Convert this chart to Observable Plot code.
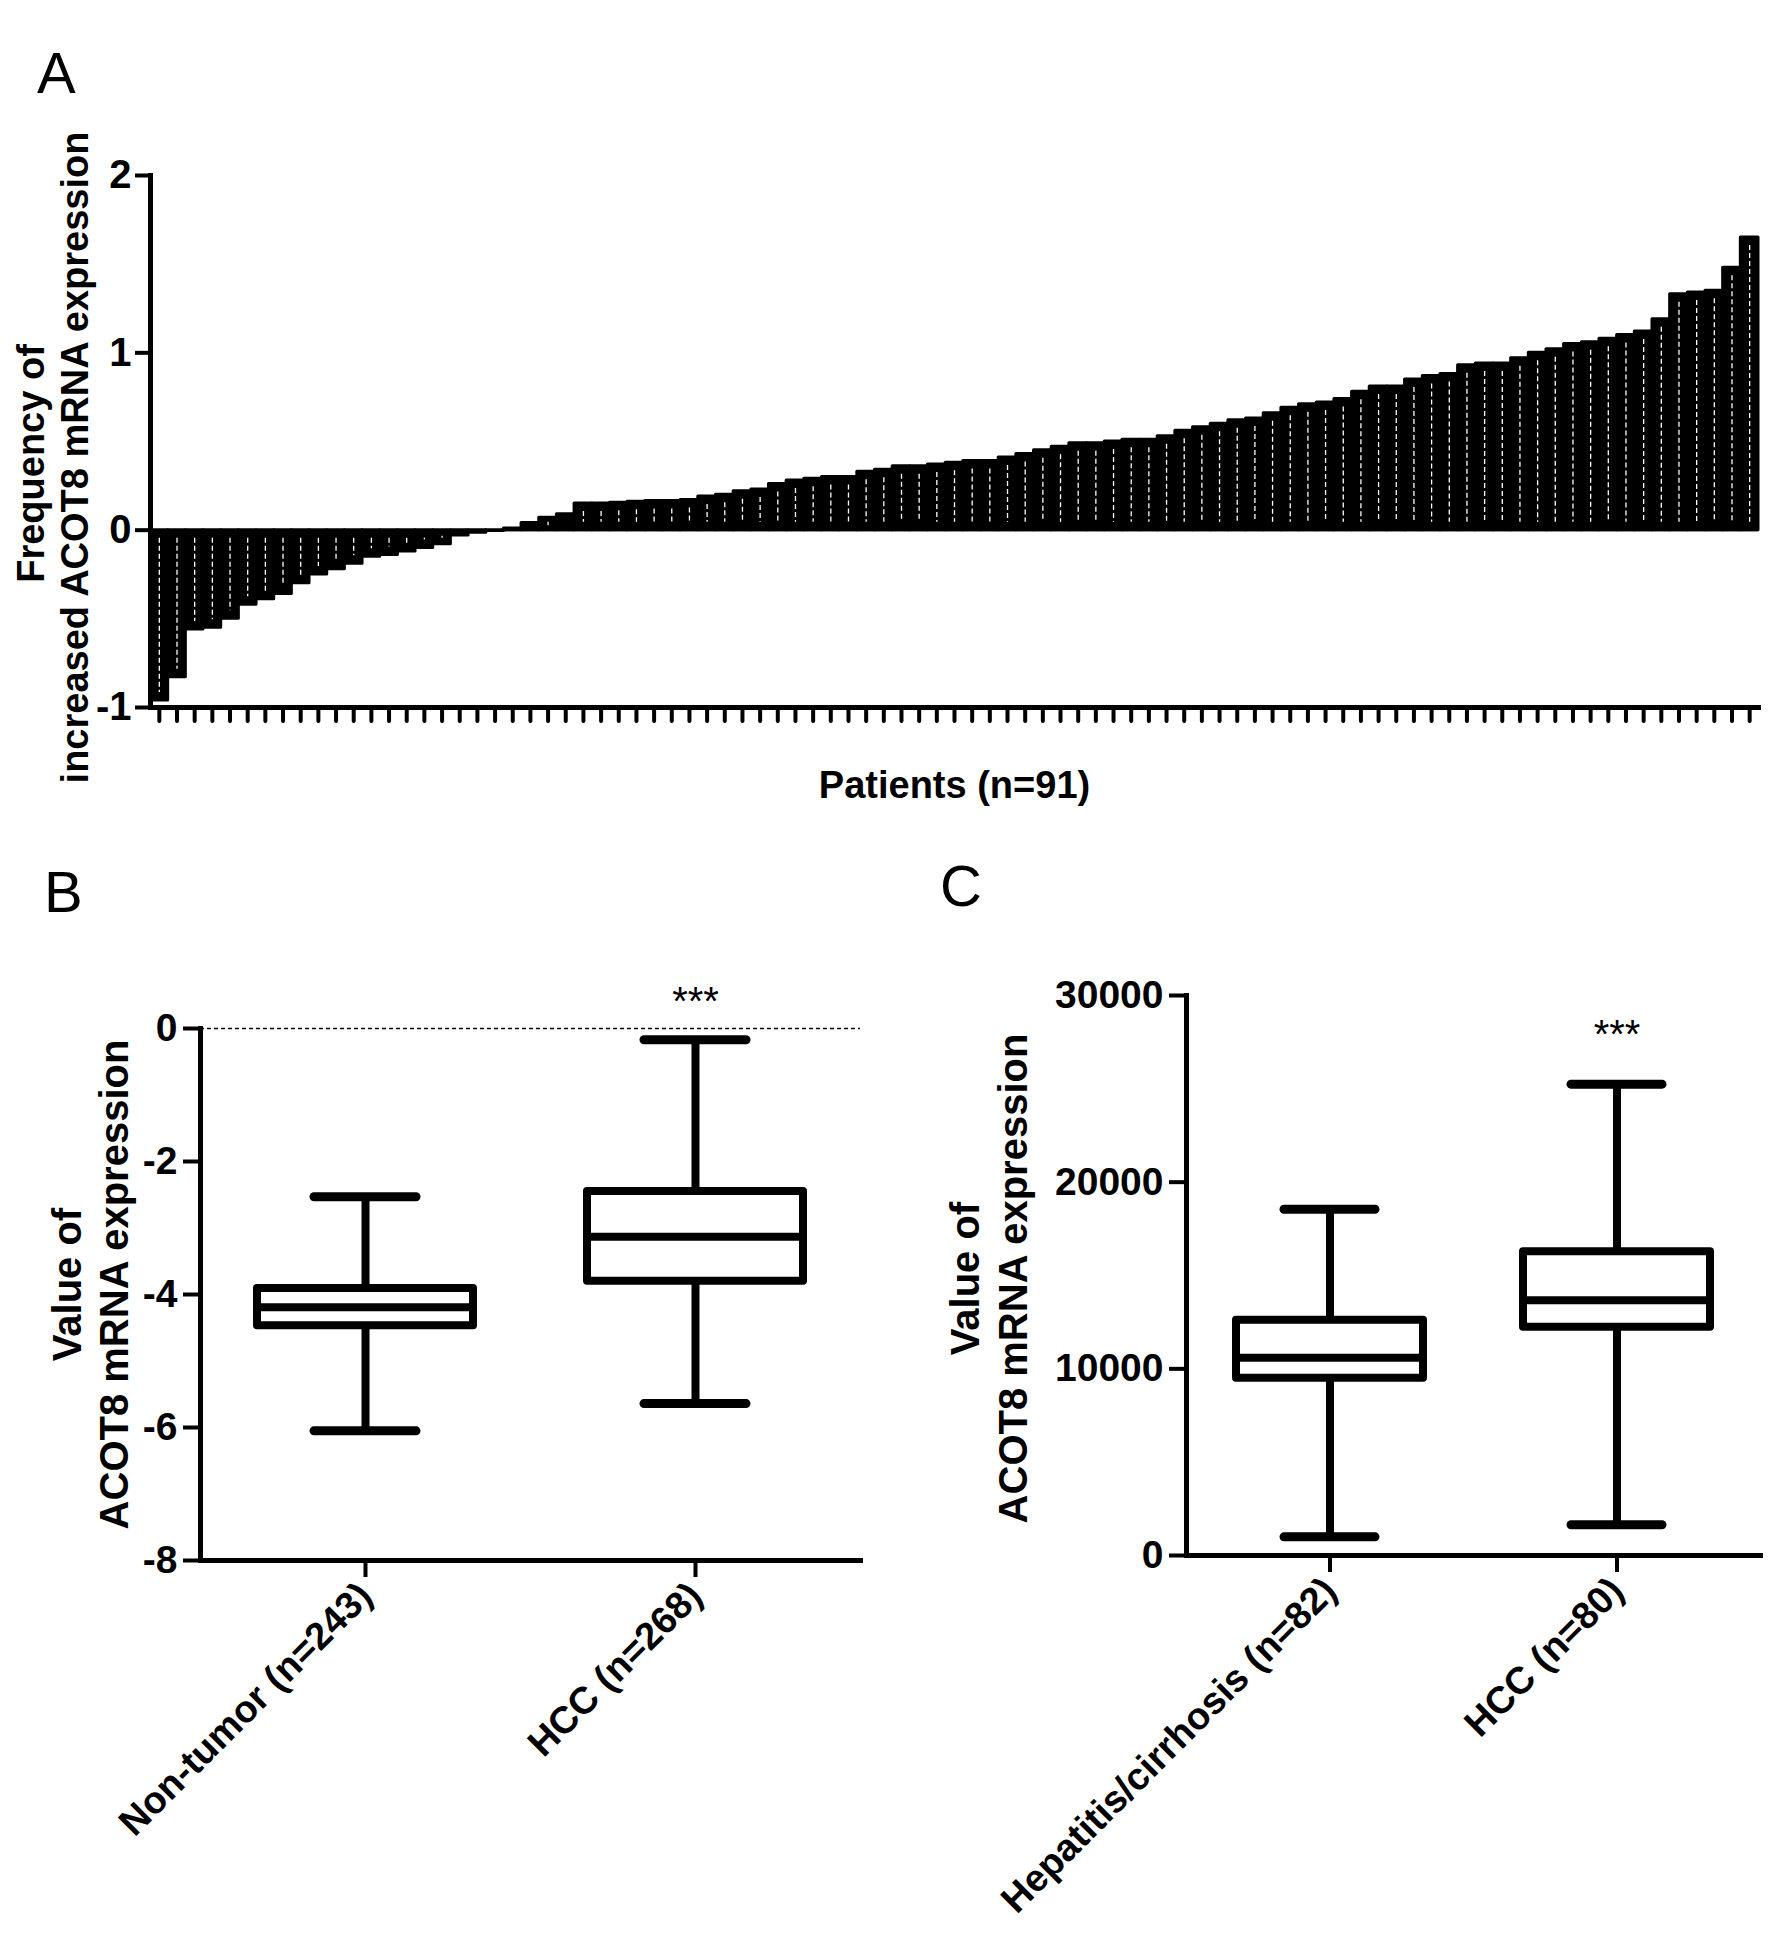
<!DOCTYPE html>
<html>
<head>
<meta charset="utf-8">
<script src="https://cdn.jsdelivr.net/npm/d3@7"></script>
<script src="https://cdn.jsdelivr.net/npm/@observablehq/plot@0.6"></script>
<style>
  body { margin: 0; background: #fff; }
  #fig { position: relative; width: 1772px; height: 1948px; background: #fff; font-family: "Liberation Sans", Arial, sans-serif; overflow: hidden; }
  .panel { position: absolute; }
  .letter { position: absolute; z-index: 2; font-size: 58px; line-height: 1; color: #000; }
</style>
</head>
<body>
<div id="fig">
  <div class="panel" id="panelA" style="left:0;top:0"></div>
  <div class="panel" id="panelB" style="left:0;top:940px"></div>
  <div class="panel" id="panelC" style="left:886px;top:940px"></div>
  <div class="letter" style="left:37px;top:44px">A</div>
  <div class="letter" style="left:44px;top:863px">B</div>
  <div class="letter" style="left:940px;top:857px">C</div>
</div>
<script>
// panel A: per-patient expression, sorted
const patients = d3.range(1, 92);
const expression = [
  -0.96, -0.83, -0.56, -0.55, -0.50, -0.42, -0.39, -0.36, -0.30, -0.25,
  -0.22, -0.19, -0.15, -0.14, -0.12, -0.10, -0.08, -0.03, -0.015, -0.005,
  0.01, 0.04, 0.07, 0.09, 0.15, 0.15, 0.155, 0.16, 0.165, 0.165,
  0.17, 0.19, 0.20, 0.22, 0.23, 0.26, 0.28, 0.29, 0.30, 0.30,
  0.33, 0.34, 0.36, 0.36, 0.37, 0.38, 0.39, 0.39, 0.41, 0.43,
  0.45, 0.47, 0.49, 0.49, 0.50, 0.51, 0.51, 0.53, 0.56, 0.58,
  0.60, 0.62, 0.63, 0.66, 0.69, 0.71, 0.72, 0.74, 0.78, 0.81,
  0.81, 0.85, 0.87, 0.88, 0.93, 0.94, 0.94, 0.97, 1.00, 1.02,
  1.05, 1.06, 1.08, 1.10, 1.12, 1.19, 1.33, 1.34, 1.35, 1.48,
  1.65
];
const yTicksA = [-1, 0, 1, 2];

// panel B: box summaries
const groupsB = ["Non-tumor (n=243)", "HCC (n=268)"];
const minB = [-6.05, -5.64];
const q1B = [-4.47, -3.80];
const medianB = [-4.19, -3.13];
const q3B = [-3.91, -2.45];
const maxB = [-2.53, -0.17];
const yTicksB = [-8, -6, -4, -2, 0];

// panel C: box summaries
const groupsC = ["Hepatitis/cirrhosis (n=82)", "HCC (n=80)"];
const minC = [1000, 1650];
const q1C = [9500, 12230];
const medianC = [10600, 13680];
const q3C = [12600, 16270];
const maxC = [18550, 25250];
const yTicksC = [0, 10000, 20000, 30000];

const font = "Liberation Sans, Arial, sans-serif";
const baseStyle = {fontFamily: font, fontWeight: "bold", color: "black", background: "transparent", overflow: "visible"};

const dataA = patients.map((p, i) => ({patient: p, value: expression[i]}));

const plotA = Plot.plot({
  width: 1772, height: 830,
  marginLeft: 150, marginRight: 14, marginTop: 175, marginBottom: 123,
  style: baseStyle,
  x: {type: "band", domain: patients, padding: 0},
  y: {domain: [-1, 2]},
  marks: [
    Plot.barY(dataA, {x: "patient", y1: 0, y2: "value", fill: "black", stroke: "black", strokeWidth: 3, strokeLinejoin: "round"}),
    Plot.ruleX(dataA.filter(d => Math.abs(d.value) > 0.06), {
      x: "patient", y1: d => Math.max(d.value, 0), y2: d => Math.min(d.value, 0),
      stroke: "white", strokeWidth: 1.3, strokeDasharray: "5,3", insetTop: 8, insetBottom: 8
    }),
    Plot.ruleY([0], {strokeWidth: 2}),
    Plot.frame({anchor: "left", strokeWidth: 5}),
    Plot.frame({anchor: "bottom", strokeWidth: 5}),
    Plot.axisY({ticks: yTicksA, tickFormat: d => String(d), tickSize: 15, tickPadding: 4, strokeWidth: 4, fontSize: 40, fontWeight: "bold", label: null}),
    Plot.axisX({tickSize: 14, tickFormat: () => "", strokeWidth: 4, strokeLinecap: "round", label: null}),
    Plot.text(["Frequency of"], {frameAnchor: "left", textAnchor: "middle", rotate: -90, dx: -119, dy: 22, fontSize: 38, fontWeight: "bold"}),
    Plot.text(["increased ACOT8 mRNA expression"], {frameAnchor: "left", textAnchor: "middle", rotate: -90, dx: -75, dy: 16, fontSize: 38, fontWeight: "bold"}),
    Plot.text(["Patients (n=91)"], {frameAnchor: "bottom", dy: 90, fontSize: 38, fontWeight: "bold"})
  ]
});
document.getElementById("panelA").append(plotA);

function boxPanel({groups, mins, q1s, medians, q3s, maxs, yDomain, yTicks, tickFormat, sigY,
                   width, height, marginLeft, marginRight, marginTop, marginBottom,
                   boxInset, capInset, titleDx, titleDy, zeroLine}) {
  const stats = groups.map((g, i) => ({group: g, min: mins[i], q1: q1s[i], median: medians[i], q3: q3s[i], max: maxs[i]}));
  return Plot.plot({
    width, height, marginLeft, marginRight, marginTop, marginBottom,
    style: baseStyle,
    x: {domain: groups, padding: 0},
    y: {domain: yDomain},
    marks: [
      zeroLine ? Plot.ruleY([0], {strokeDasharray: "4,3", strokeWidth: 1.5}) : null,
      Plot.ruleX(stats, {x: "group", y1: "min", y2: "max", strokeWidth: 8}),
      Plot.tickY(stats, {x: "group", y: "min", strokeWidth: 9, strokeLinecap: "round", insetLeft: capInset, insetRight: capInset}),
      Plot.tickY(stats, {x: "group", y: "max", strokeWidth: 9, strokeLinecap: "round", insetLeft: capInset, insetRight: capInset}),
      Plot.barY(stats, {x: "group", y1: "q1", y2: "q3", fill: "white", stroke: "black", strokeWidth: 8, strokeLinejoin: "round", insetLeft: boxInset, insetRight: boxInset}),
      Plot.tickY(stats, {x: "group", y: "median", strokeWidth: 8, insetLeft: boxInset, insetRight: boxInset}),
      Plot.frame({anchor: "left", strokeWidth: 5}),
      Plot.frame({anchor: "bottom", strokeWidth: 5}),
      Plot.axisY({ticks: yTicks, tickFormat, tickSize: 17, tickPadding: 6, strokeWidth: 4, fontSize: 39, fontWeight: "bold", label: null}),
      Plot.axisX({tickSize: 17, tickPadding: 12, tickRotate: -45, strokeWidth: 4, fontSize: 38, fontWeight: "bold", label: null}),
      Plot.text(["Value of"], {frameAnchor: "left", textAnchor: "middle", rotate: -90, dx: titleDx[0], dy: titleDy, fontSize: 40, fontWeight: "bold"}),
      Plot.text(["ACOT8 mRNA expression"], {frameAnchor: "left", textAnchor: "middle", rotate: -90, dx: titleDx[1], dy: titleDy, fontSize: 40, fontWeight: "bold"}),
      Plot.text([{group: groups[1], y: sigY, label: "***"}], {x: "group", y: "y", text: "label", fontSize: 40, fontWeight: "normal"})
    ]
  });
}

const plotB = boxPanel({
  groups: groupsB, mins: minB, q1s: q1B, medians: medianB, q3s: q3B, maxs: maxB,
  yDomain: [-8, 0], yTicks: yTicksB, tickFormat: d => String(d), sigY: 0.4,
  width: 886, height: 1008, marginLeft: 200, marginRight: 26, marginTop: 88, marginBottom: 388,
  boxInset: 57, capInset: 114, titleDx: [-132, -85], titleDy: -10, zeroLine: true
});
document.getElementById("panelB").append(plotB);

const plotC = boxPanel({
  groups: groupsC, mins: minC, q1s: q1C, medians: medianC, q3s: q3C, maxs: maxC,
  yDomain: [0, 30000], yTicks: yTicksC, tickFormat: d3.format("d"), sigY: 27860,
  width: 886, height: 1008, marginLeft: 300, marginRight: 12, marginTop: 55, marginBottom: 393,
  boxInset: 50, capInset: 98, titleDx: [-220, -172], titleDy: 3, zeroLine: false
});
document.getElementById("panelC").append(plotC);
</script>
</body>
</html>
